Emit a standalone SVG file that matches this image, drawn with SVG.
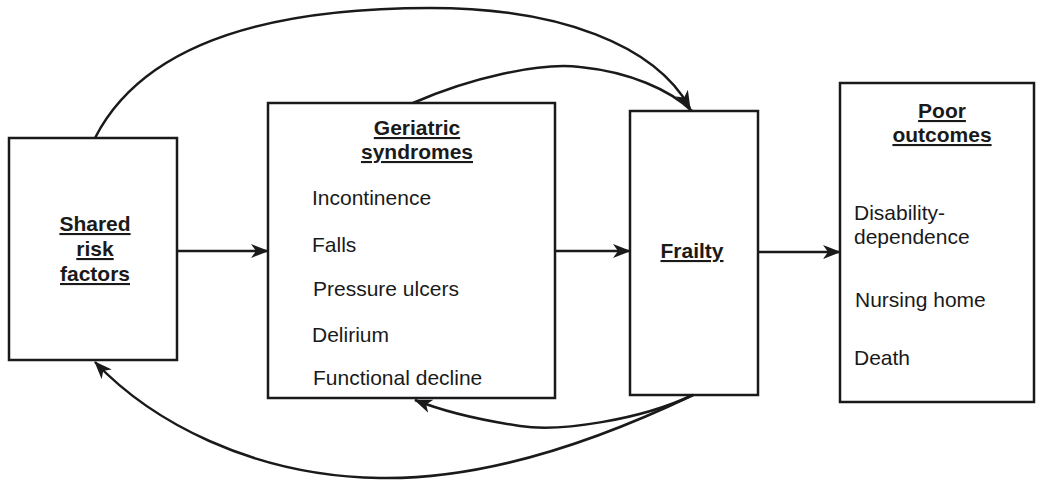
<svg xmlns="http://www.w3.org/2000/svg" width="1041" height="481" viewBox="0 0 1041 481">
<style>
.box{fill:#fff;stroke:#1a1a1a;stroke-width:2.5}
.t{font-family:"Liberation Sans",Arial,sans-serif;font-size:21px;fill:#1a1a1a}
.h{font-weight:bold;text-decoration:underline;text-anchor:middle}
.c{fill:none;stroke:#1a1a1a;stroke-width:2.5}
</style>
<defs>
<marker id="ah" viewBox="0 0 18 14" markerWidth="18" markerHeight="14" refX="17" refY="7" orient="auto" markerUnits="userSpaceOnUse">
<path d="M0,0 L18,7 L0,14 L5,7 z" fill="#1a1a1a"/>
</marker>
</defs>
<g id="shared">
<rect class="box" x="9" y="138" width="168" height="222"/>
<text class="t h" x="95" y="231">Shared</text>
<text class="t h" x="95" y="256">risk</text>
<text class="t h" x="95" y="281">factors</text>
</g>
<g id="geriatric">
<rect class="box" x="268" y="103" width="287" height="295"/>
<text class="t h" x="417" y="135">Geriatric</text>
<text class="t h" x="417" y="159">syndromes</text>
<text class="t" x="312" y="205">Incontinence</text>
<text class="t" x="312" y="252">Falls</text>
<text class="t" x="313" y="296">Pressure ulcers</text>
<text class="t" x="312" y="342">Delirium</text>
<text class="t" x="313" y="385">Functional decline</text>
</g>
<g id="frailty">
<rect class="box" x="630" y="111" width="128" height="284"/>
<text class="t h" x="692" y="258">Frailty</text>
</g>
<g id="outcomes">
<rect class="box" x="840" y="83" width="194" height="319"/>
<text class="t h" x="942" y="118">Poor</text>
<text class="t h" x="942" y="142">outcomes</text>
<text class="t" x="854" y="220">Disability-</text>
<text class="t" x="854" y="244">dependence</text>
<text class="t" x="855" y="307">Nursing home</text>
<text class="t" x="854" y="365">Death</text>
</g>
<g id="connectors">
<path class="c" d="M177,251 L268,251" marker-end="url(#ah)"/>
<path class="c" d="M555,251 L630,251" marker-end="url(#ah)"/>
<path class="c" d="M758,252 L840,252" marker-end="url(#ah)"/>
<path class="c" d="M95,138 C150,30 300,8 430,8 C560,8 655,45 690,108" marker-end="url(#ah)"/>
<path class="c" d="M413,103 C470,78 540,62 580,67 C630,72 670,90 692,111"/>
<path class="c" d="M693,395 C640,420 560,432 520,426 C480,420 440,410 415,400" marker-end="url(#ah)"/>
<path class="c" d="M693,395 C620,430 500,480 380,478 C250,476 150,420 95,362" marker-end="url(#ah)"/>
</g>
</svg>
